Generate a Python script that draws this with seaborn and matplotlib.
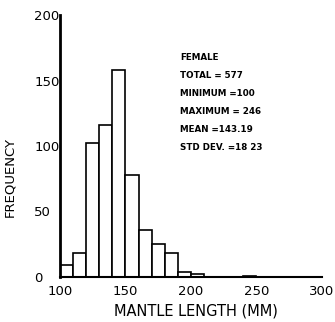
import matplotlib
matplotlib.use("Agg")
import matplotlib.pyplot as plt
import seaborn as sns
import numpy as np

# data: 10 mm bins
bin_edges = list(range(100, 310, 10))
bin_counts = [9, 18, 102, 116, 158, 78, 36, 25, 18, 4, 2, 0, 0, 0, 1, 0, 0, 0, 0, 0]
x_ticks = [100, 150, 200, 250, 300]
y_ticks = [0, 50, 100, 150, 200]
stats_lines = ["FEMALE", "TOTAL = 577", "MINIMUM =100", "MAXIMUM = 246",
               "MEAN =143.19", "STD DEV. =18 23"]

sns.set_theme(style="white")
plt.rcParams['font.family'] = ['DejaVu Sans']

fig = plt.figure(figsize=(3.35, 3.22), dpi=100)
ax = fig.add_axes([0.179, 0.14, 0.782, 0.813])

centers = [e + 5 for e in bin_edges[:-1]]
sns.histplot(x=centers, weights=bin_counts, bins=bin_edges, ax=ax,
             color="white", edgecolor="black", linewidth=1.2, alpha=1)

ax.set_xlim(100, 300)
ax.set_ylim(0, 200)
ax.set_xticks(x_ticks)
ax.set_yticks(y_ticks)
ax.tick_params(length=0, labelsize=9.5, colors="black", pad=6)
ax.tick_params(axis="y", pad=18.5)
for lab in ax.get_yticklabels():
    lab.set_horizontalalignment("left")
ax.set_ylabel("FREQUENCY", fontsize=9.5, color="black")
ax.set_xlabel("MANTLE LENGTH (MM)", fontsize=10.5, color="black")
ax.yaxis.set_label_coords(-0.165, 0.38)
ax.xaxis.set_label_coords(0.52, -0.1)

sns.despine(ax=ax)
ax.spines['left'].set_linewidth(2)
ax.spines['bottom'].set_linewidth(1.5)
ax.spines['left'].set_color("black")
ax.spines['bottom'].set_color("black")

y0 = 57
for i, line in enumerate(stats_lines):
    fig.text(180 / 335, 1 - (y0 + i * 18) / 322, line, fontsize=6.3,
             fontweight="bold", va="center", ha="left", color="black")

fig.savefig("out.png", dpi=100)
